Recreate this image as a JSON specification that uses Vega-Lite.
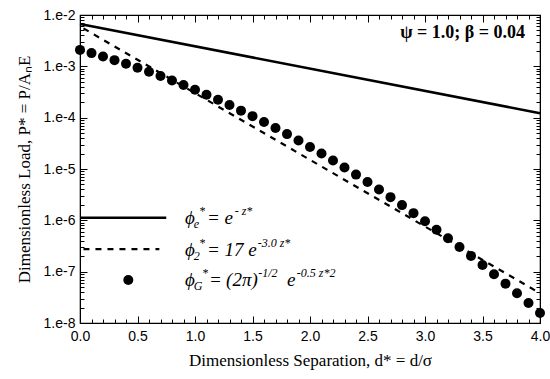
{
  "$schema": "https://vega.github.io/schema/vega-lite/v6.json",
  "autosize": {"type": "none"},
  "padding": {"left": 80, "top": 15, "right": 10, "bottom": 56},
  "width": 460,
  "height": 308,
  "config": {
    "view": {"stroke": "black", "strokeWidth": 1.2},
    "axis": {"domainColor": "black", "tickColor": "black", "labelColor": "black", "titleColor": "black", "grid": false, "labelFont": "Liberation Sans", "labelFontSize": 14, "titleFont": "Liberation Serif", "titleFontSize": 17, "titleFontWeight": "normal"}
  },
  "datasets": {
    "solid": [{"x": 0, "y": 0.00668}, {"x": 4, "y": 0.000122}],
    "dashed": [{"x": 0, "y": 0.0060}, {"x": 4, "y": 3.8e-8}],
    "dots": [
      {"x": 0.0, "y": 2.09e-3}, {"x": 0.1, "y": 1.81e-3}, {"x": 0.2, "y": 1.55e-3}, {"x": 0.3, "y": 1.32e-3},
      {"x": 0.4, "y": 1.12e-3}, {"x": 0.5, "y": 9.41e-4}, {"x": 0.6, "y": 7.83e-4}, {"x": 0.7, "y": 6.48e-4},
      {"x": 0.8, "y": 5.31e-4}, {"x": 0.9, "y": 4.32e-4}, {"x": 1.0, "y": 3.49e-4}, {"x": 1.1, "y": 2.80e-4},
      {"x": 1.2, "y": 2.23e-4}, {"x": 1.3, "y": 1.76e-4}, {"x": 1.4, "y": 1.37e-4}, {"x": 1.5, "y": 1.07e-4},
      {"x": 1.6, "y": 8.23e-5}, {"x": 1.7, "y": 6.30e-5}, {"x": 1.8, "y": 4.78e-5}, {"x": 1.9, "y": 3.60e-5},
      {"x": 2.0, "y": 2.69e-5}, {"x": 2.1, "y": 2.00e-5}, {"x": 2.2, "y": 1.47e-5}, {"x": 2.3, "y": 1.07e-5},
      {"x": 2.4, "y": 7.78e-6}, {"x": 2.5, "y": 5.59e-6}, {"x": 2.6, "y": 3.99e-6}, {"x": 2.7, "y": 2.83e-6},
      {"x": 2.8, "y": 1.98e-6}, {"x": 2.9, "y": 1.38e-6}, {"x": 3.0, "y": 9.57e-7}, {"x": 3.1, "y": 6.57e-7},
      {"x": 3.2, "y": 4.48e-7}, {"x": 3.3, "y": 3.03e-7}, {"x": 3.4, "y": 2.03e-7}, {"x": 3.5, "y": 1.35e-7},
      {"x": 3.6, "y": 8.92e-8}, {"x": 3.7, "y": 5.84e-8}, {"x": 3.8, "y": 3.80e-8}, {"x": 3.9, "y": 2.45e-8},
      {"x": 4.0, "y": 1.57e-8}
    ],
    "legSolid": [{"x": 0.0, "y": 1.12e-6}, {"x": 0.75, "y": 1.12e-6}],
    "legDashed": [{"x": 0.03, "y": 2.76e-7}, {"x": 0.69, "y": 2.76e-7}],
    "legDot": [{"x": 0.42, "y": 6.9e-8}],
    "legBase": [
      {"x": 0.913, "y": 1.12e-6, "label": "ϕ"},
      {"x": 1.104, "y": 1.12e-6, "label": "= e"},
      {"x": 0.913, "y": 2.7e-7, "label": "ϕ"},
      {"x": 1.104, "y": 2.7e-7, "label": "= 17 e"},
      {"x": 0.913, "y": 6.9e-8, "label": "ϕ"},
      {"x": 1.122, "y": 6.9e-8, "label": "="},
      {"x": 1.27, "y": 6.9e-8, "label": "(2π)"},
      {"x": 1.80, "y": 6.9e-8, "label": "e"}
    ],
    "legSub": [
      {"x": 0.99, "y": 1.12e-6, "label": "e"},
      {"x": 0.99, "y": 2.7e-7, "label": "2"},
      {"x": 0.99, "y": 6.9e-8, "label": "G"}
    ],
    "legSup": [
      {"x": 1.035, "y": 1.12e-6, "label": "*"},
      {"x": 1.345, "y": 1.12e-6, "label": "- z*"},
      {"x": 1.035, "y": 2.7e-7, "label": "*"},
      {"x": 1.545, "y": 2.7e-7, "label": "-3.0 z*"},
      {"x": 1.06, "y": 6.9e-8, "label": "*"},
      {"x": 1.55, "y": 6.9e-8, "label": "-1/2"},
      {"x": 1.885, "y": 6.9e-8, "label": "-0.5 z*2"}
    ],
    "note": [{"x": 3.87, "y": 4.46e-3, "label": "ψ = 1.0; β = 0.04"}]
  },
  "resolve": {"axis": {"x": "independent", "y": "independent"}},
  "layer": [
    {
      "data": {"name": "solid"},
      "mark": {"type": "line", "color": "black", "strokeWidth": 2.6},
      "encoding": {
        "x": {"field": "x", "type": "quantitative", "scale": {"domain": [0, 4], "nice": false},
          "axis": {"orient": "bottom", "title": "Dimensionless Separation, d* = d/σ",
            "values": [0,0.1,0.2,0.3,0.4,0.5,0.6,0.7,0.8,0.9,1,1.1,1.2,1.3,1.4,1.5,1.6,1.7,1.8,1.9,2,2.1,2.2,2.3,2.4,2.5,2.6,2.7,2.8,2.9,3,3.1,3.2,3.3,3.4,3.5,3.6,3.7,3.8,3.9,4],
            "labelExpr": "abs(datum.value*2 - round(datum.value*2)) < 0.001 ? format(datum.value, '.1f') : ''",
            "tickSize": {"condition": {"test": "abs(datum.value*2 - round(datum.value*2)) < 0.001", "value": -7}, "value": -4},
            "labelPadding": 13, "titlePadding": 9, "labelFlush": false}},
        "y": {"field": "y", "type": "quantitative", "scale": {"type": "log", "domain": [1e-8, 1e-2], "nice": false},
          "axis": {"orient": "left", "title": "Dimensionless Load, P* = P/AₙE",
            "values": [1e-8,2e-8,3e-8,4e-8,5e-8,6e-8,7e-8,8e-8,9e-8,1e-7,2e-7,3e-7,4e-7,5e-7,6e-7,7e-7,8e-7,9e-7,1e-6,2e-6,3e-6,4e-6,5e-6,6e-6,7e-6,8e-6,9e-6,1e-5,2e-5,3e-5,4e-5,5e-5,6e-5,7e-5,8e-5,9e-5,1e-4,2e-4,3e-4,4e-4,5e-4,6e-4,7e-4,8e-4,9e-4,1e-3,2e-3,3e-3,4e-3,5e-3,6e-3,7e-3,8e-3,9e-3,1e-2],
            "labelExpr": "abs(log(datum.value)/LN10 - round(log(datum.value)/LN10)) < 0.001 ? '1.e' + round(log(datum.value)/LN10) : ''",
            "tickSize": {"condition": {"test": "abs(log(datum.value)/LN10 - round(log(datum.value)/LN10)) < 0.001", "value": -7}, "value": -4},
            "labelPadding": 12, "titlePadding": 10, "labelFlush": false}}
      }
    },
    {
      "data": {"name": "dashed"},
      "mark": {"type": "line", "color": "black", "strokeWidth": 2.2, "strokeDash": [6, 6], "strokeDashOffset": 8},
      "encoding": {
        "x": {"field": "x", "type": "quantitative", "scale": {"domain": [0, 4], "nice": false},
          "axis": {"orient": "top", "title": null, "labels": false,
            "values": [0,0.1,0.2,0.3,0.4,0.5,0.6,0.7,0.8,0.9,1,1.1,1.2,1.3,1.4,1.5,1.6,1.7,1.8,1.9,2,2.1,2.2,2.3,2.4,2.5,2.6,2.7,2.8,2.9,3,3.1,3.2,3.3,3.4,3.5,3.6,3.7,3.8,3.9,4],
            "tickSize": {"condition": {"test": "abs(datum.value*2 - round(datum.value*2)) < 0.001", "value": -7}, "value": -4}}},
        "y": {"field": "y", "type": "quantitative", "scale": {"type": "log", "domain": [1e-8, 1e-2], "nice": false},
          "axis": {"orient": "right", "title": null, "labels": false,
            "values": [1e-8,2e-8,3e-8,4e-8,5e-8,6e-8,7e-8,8e-8,9e-8,1e-7,2e-7,3e-7,4e-7,5e-7,6e-7,7e-7,8e-7,9e-7,1e-6,2e-6,3e-6,4e-6,5e-6,6e-6,7e-6,8e-6,9e-6,1e-5,2e-5,3e-5,4e-5,5e-5,6e-5,7e-5,8e-5,9e-5,1e-4,2e-4,3e-4,4e-4,5e-4,6e-4,7e-4,8e-4,9e-4,1e-3,2e-3,3e-3,4e-3,5e-3,6e-3,7e-3,8e-3,9e-3,1e-2],
            "tickSize": {"condition": {"test": "abs(log(datum.value)/LN10 - round(log(datum.value)/LN10)) < 0.001", "value": -7}, "value": -4}}}
      }
    },
    {
      "data": {"name": "dots"},
      "mark": {"type": "circle", "color": "black", "opacity": 1, "size": 100},
      "encoding": {
        "x": {"field": "x", "type": "quantitative", "axis": null},
        "y": {"field": "y", "type": "quantitative", "axis": null}
      }
    },
    {
      "data": {"name": "legSolid"},
      "mark": {"type": "line", "color": "black", "strokeWidth": 2.6},
      "encoding": {
        "x": {"field": "x", "type": "quantitative", "axis": null},
        "y": {"field": "y", "type": "quantitative", "axis": null}
      }
    },
    {
      "data": {"name": "legDashed"},
      "mark": {"type": "line", "color": "black", "strokeWidth": 2.2, "strokeDash": [6, 6]},
      "encoding": {
        "x": {"field": "x", "type": "quantitative", "axis": null},
        "y": {"field": "y", "type": "quantitative", "axis": null}
      }
    },
    {
      "data": {"name": "legDot"},
      "mark": {"type": "circle", "color": "black", "opacity": 1, "size": 100},
      "encoding": {
        "x": {"field": "x", "type": "quantitative", "axis": null},
        "y": {"field": "y", "type": "quantitative", "axis": null}
      }
    },
    {
      "data": {"name": "legBase"},
      "mark": {"type": "text", "align": "left", "baseline": "middle", "font": "Liberation Serif", "fontStyle": "italic", "fontSize": 19, "color": "black"},
      "encoding": {
        "x": {"field": "x", "type": "quantitative", "axis": null},
        "y": {"field": "y", "type": "quantitative", "axis": null},
        "text": {"field": "label"}
      }
    },
    {
      "data": {"name": "legSub"},
      "mark": {"type": "text", "align": "left", "baseline": "middle", "font": "Liberation Serif", "fontStyle": "italic", "fontSize": 12, "dy": 6, "color": "black"},
      "encoding": {
        "x": {"field": "x", "type": "quantitative", "axis": null},
        "y": {"field": "y", "type": "quantitative", "axis": null},
        "text": {"field": "label"}
      }
    },
    {
      "data": {"name": "legSup"},
      "mark": {"type": "text", "align": "left", "baseline": "middle", "font": "Liberation Serif", "fontStyle": "italic", "fontSize": 12, "dy": -7, "color": "black"},
      "encoding": {
        "x": {"field": "x", "type": "quantitative", "axis": null},
        "y": {"field": "y", "type": "quantitative", "axis": null},
        "text": {"field": "label"}
      }
    },
    {
      "data": {"name": "note"},
      "mark": {"type": "text", "align": "right", "baseline": "middle", "font": "Liberation Serif", "fontWeight": "bold", "fontSize": 18, "color": "black"},
      "encoding": {
        "x": {"field": "x", "type": "quantitative", "axis": null},
        "y": {"field": "y", "type": "quantitative", "axis": null},
        "text": {"field": "label"}
      }
    }
  ]
}
